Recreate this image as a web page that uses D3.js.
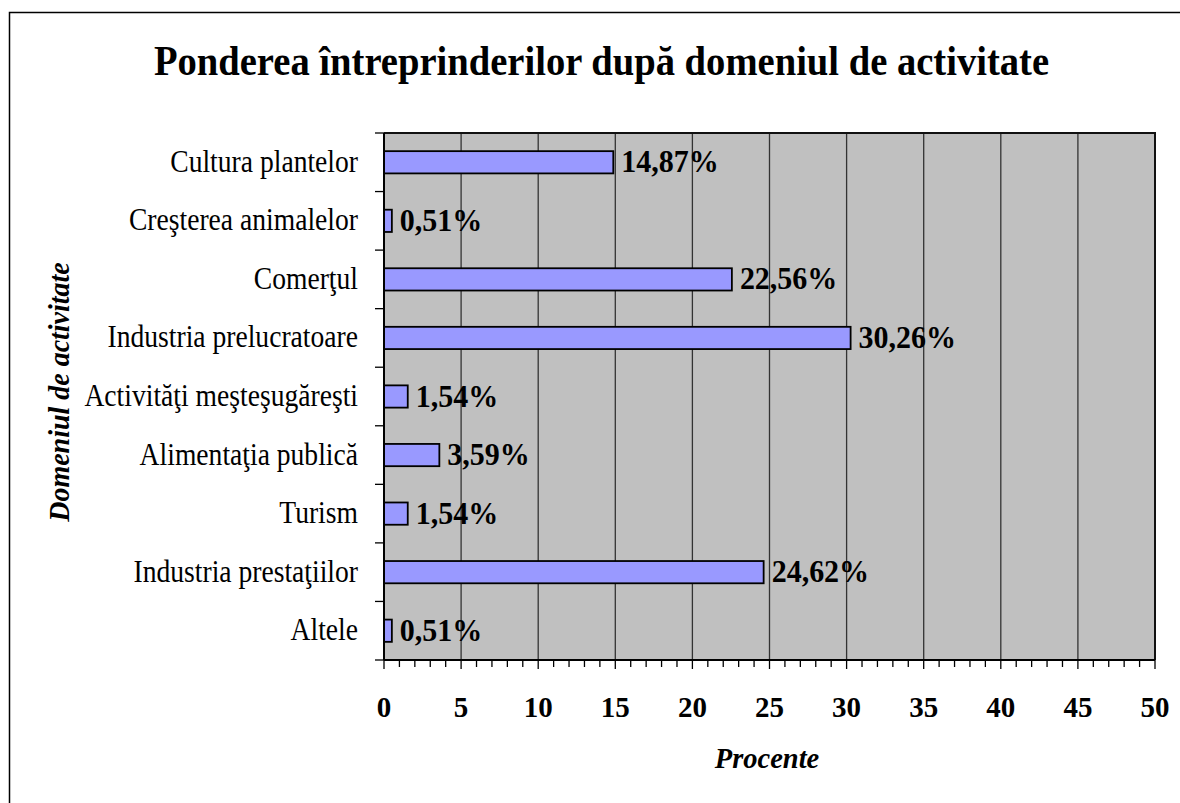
<!DOCTYPE html>
<html lang="ro">
<head>
  <meta charset="UTF-8">
  <title>Ponderea întreprinderilor</title>
  <script src="https://d3js.org/d3.v7.min.js"></script>
  <style>
    body { margin: 0; background: #fff; }
    svg text { font-family: "Liberation Serif", "Times New Roman", serif; fill: #000; }
  </style>
</head>
<body>
  <div id="chart"></div>
  <script>
    // date
    const categories = [
      "Cultura plantelor",
      "Creşterea animalelor",
      "Comerţul",
      "Industria prelucratoare",
      "Activităţi meşteşugăreşti",
      "Alimentaţia publică",
      "Turism",
      "Industria prestaţiilor",
      "Altele"
    ];
    const values = [14.87, 0.51, 22.56, 30.26, 1.54, 3.59, 1.54, 24.62, 0.51];
    const xTicks = [0, 5, 10, 15, 20, 25, 30, 35, 40, 45, 50];

    const width = 1180, height = 803;
    const plot = { left: 384, top: 133, right: 1155, bottom: 660 };

    const svg = d3.select("#chart").append("svg")
      .attr("width", width)
      .attr("height", height);

    // textul din original e putin intins pe verticala
    const place = (px, py, sy) => `translate(${px},${py}) scale(1,${sy})`;

    // chenarul exterior
    svg.append("rect")
      .attr("x", 9.5).attr("y", 12.5)
      .attr("width", 1200).attr("height", 900)
      .attr("fill", "none").attr("stroke", "#000").attr("stroke-width", 1.5);

    const x = d3.scaleLinear().domain([0, 50]).range([plot.left, plot.right]);
    const y = d3.scaleBand().domain(categories).range([plot.top, plot.bottom]).paddingInner(0.62).paddingOuter(0.31);

    // fundalul graficului
    svg.append("rect")
      .attr("x", plot.left).attr("y", plot.top)
      .attr("width", plot.right - plot.left).attr("height", plot.bottom - plot.top)
      .attr("fill", "#c0c0c0");

    // linii de grilă
    svg.append("g").selectAll("line")
      .data(xTicks.slice(1))
      .enter().append("line")
      .attr("x1", d => x(d)).attr("x2", d => x(d))
      .attr("y1", plot.top).attr("y2", plot.bottom)
      .attr("stroke", "#333").attr("stroke-width", 1.3);

    // marginea de sus si dreapta
    svg.append("path")
      .attr("d", `M${plot.left},${plot.top}H${plot.right}V${plot.bottom}`)
      .attr("fill", "none").attr("stroke", "#111").attr("stroke-width", 2);

    // barele
    svg.append("g").selectAll("rect")
      .data(values)
      .enter().append("rect")
      .attr("x", x(0))
      .attr("y", (d, i) => y(categories[i]))
      .attr("width", d => x(d) - x(0))
      .attr("height", y.bandwidth())
      .attr("fill", "#9999ff")
      .attr("stroke", "#000").attr("stroke-width", 1.8);

    // etichete valori
    svg.append("g").selectAll("text")
      .data(values)
      .enter().append("text")
      .attr("transform", (d, i) => place(x(d) + 8, y(categories[i]) + y.bandwidth() / 2 + 10, 1.05))
      .attr("font-size", 30).attr("font-weight", "bold")
      .text(d => d.toFixed(2).replace(".", ",") + "%");

    // axa Y
    const step = y.step();
    const yAxis = svg.append("g");
    yAxis.append("line")
      .attr("x1", plot.left).attr("x2", plot.left)
      .attr("y1", plot.top).attr("y2", plot.bottom)
      .attr("stroke", "#000").attr("stroke-width", 2);
    yAxis.selectAll(".tk")
      .data(d3.range(categories.length + 1))
      .enter().append("line")
      .attr("x1", plot.left - 9).attr("x2", plot.left)
      .attr("y1", i => plot.top + i * step).attr("y2", i => plot.top + i * step)
      .attr("stroke", "#000").attr("stroke-width", 1.3);
    yAxis.selectAll("text")
      .data(categories)
      .enter().append("text")
      .attr("transform", d => place(plot.left - 26, y(d) + y.bandwidth() / 2 + 9.5, 1.12))
      .attr("text-anchor", "end")
      .attr("font-size", 27.6)
      .text(d => d);

    // axa X
    const xAxis = svg.append("g");
    xAxis.append("line")
      .attr("x1", plot.left).attr("x2", plot.right)
      .attr("y1", plot.bottom).attr("y2", plot.bottom)
      .attr("stroke", "#000").attr("stroke-width", 2);
    xAxis.selectAll(".minor")
      .data(d3.range(0, 51))
      .enter().append("line")
      .attr("x1", d => x(d)).attr("x2", d => x(d))
      .attr("y1", plot.bottom)
      .attr("y2", d => plot.bottom + (d % 5 === 0 ? 9 : 7))
      .attr("stroke", "#000").attr("stroke-width", 1.3);
    xAxis.selectAll("text")
      .data(xTicks)
      .enter().append("text")
      .attr("transform", d => place(x(d), 717, 1.05))
      .attr("text-anchor", "middle")
      .attr("font-size", 29).attr("font-weight", "bold")
      .text(d => d);

    // titluri
    svg.append("text")
      .attr("transform", place(601.5, 75, 1.07))
      .attr("text-anchor", "middle")
      .attr("font-size", 38.6).attr("font-weight", "bold")
      .text("Ponderea întreprinderilor după domeniul de activitate");

    svg.append("text")
      .attr("transform", place(767, 768, 1.05))
      .attr("text-anchor", "middle")
      .attr("font-size", 28.5).attr("font-weight", "bold").attr("font-style", "italic")
      .text("Procente");

    svg.append("text")
      .attr("transform", "translate(69,392) rotate(-90) scale(1,1.05)")
      .attr("text-anchor", "middle")
      .attr("font-size", 28).attr("font-weight", "bold").attr("font-style", "italic")
      .text("Domeniul de activitate");
  </script>
</body>
</html>
